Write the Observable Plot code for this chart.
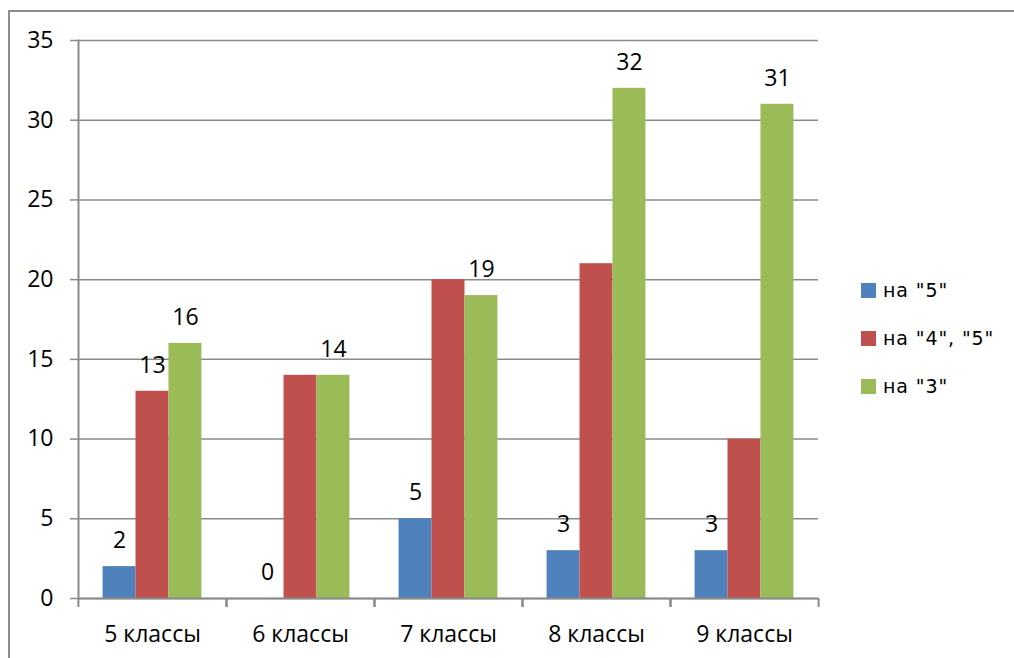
<!DOCTYPE html>
<html><head><meta charset="utf-8">
<script src="https://cdn.jsdelivr.net/npm/d3@7"></script>
<script src="https://cdn.jsdelivr.net/npm/@observablehq/plot@0.6"></script>
<style>
html,body{margin:0;background:#fff;width:1014px;height:658px;overflow:hidden}
body{position:relative;font-family:"Open Sans",sans-serif}
#border{position:absolute;left:8px;top:10px;width:1006px;height:648px;border-left:2px solid #8c8c8c;border-top:2px solid #8c8c8c;box-sizing:border-box}
#chart{position:absolute;left:0;top:0;width:1014px;height:658px;overflow:hidden}
#legend{position:absolute;left:861px;top:266px;font-family:"DejaVu Sans",sans-serif;font-size:19px;letter-spacing:0.9px;color:#000}
.item{display:flex;align-items:center;height:48px;line-height:48px}
.sw{width:15px;height:15px;margin-right:7px}
</style></head>
<body>
<div id="border"></div>
<div id="chart"></div>
<div id="legend"></div>
<script>
const categories = ["5 классы", "6 классы", "7 классы", "8 классы", "9 классы"];
const seriesNames = ['на "5"', 'на "4", "5"', 'на "3"'];
const values5 = [2, 0, 5, 3, 3];
const values45 = [13, 14, 20, 21, 10];
const values3 = [16, 14, 19, 32, 31];
const labels5 = [true, true, true, true, true];
const labels45 = [true, false, false, false, false];
const labels3 = [true, true, true, true, true];
const colors = ["#4F81BD", "#C0504D", "#9BBB59"];
const yTicks = [0, 5, 10, 15, 20, 25, 30, 35];

const seriesValues = [values5, values45, values3];
const seriesLabels = [labels5, labels45, labels3];
const rows = categories.flatMap((c, i) => seriesNames.map((s, j) => ({
  category: c, series: s, value: seriesValues[j][i], shown: seriesLabels[j][i]
})));

const W = 1014, H = 658, ML = 77, MR = 196, MT = 40, MB = 60;
const half = (W - ML - MR) / categories.length / 2;
const gray = "#8a8a8a";

const chart = Plot.plot({
  width: W, height: H, marginLeft: ML, marginRight: MR, marginTop: MT, marginBottom: MB,
  fx: {domain: categories, padding: 0, axis: null, label: null},
  x: {domain: seriesNames, paddingInner: 0, paddingOuter: 0.745, axis: null, round: false},
  y: {domain: [0, 35], axis: null},
  color: {domain: seriesNames, range: colors},
  style: {fontFamily: "Open Sans", fontSize: "23px", color: "#000", background: "transparent"},
  marks: [
    Plot.gridY(yTicks, {stroke: gray, strokeOpacity: 1, strokeWidth: 1.5}),
    Plot.barY(rows, {fx: "category", x: "series", y: "value", fill: "series"}),
    Plot.axisY(yTicks, {tickSize: 8, tickPadding: 17, stroke: gray, strokeWidth: 1.5, strokeOpacity: 1, fontSize: 23, label: null, tickFormat: d => d}),
    Plot.frame({anchor: "left", facetAnchor: "left", stroke: gray, strokeWidth: 2}),
    Plot.ruleY([0], {stroke: gray, strokeWidth: 2}),
    Plot.axisFx({anchor: "bottom", tickSize: 0, tickPadding: 27, label: null, fontSize: 23}),
    Plot.axisFx({anchor: "bottom", tickSize: 9, tickFormat: () => "", label: null, dx: -half, stroke: gray, strokeWidth: 2, strokeOpacity: 1}),
    Plot.axisFx(categories.slice(-1), {anchor: "bottom", tickSize: 9, tickFormat: () => "", label: null, dx: half, stroke: gray, strokeWidth: 2, strokeOpacity: 1}),
    Plot.text(rows.filter(d => d.shown), {fx: "category", x: "series", y: "value", text: d => String(d.value), dy: -26, fontSize: 23, fill: "#000"})
  ]
});
document.getElementById("chart").appendChild(chart);

const legend = d3.select("#legend");
seriesNames.forEach((s, i) => {
  const item = legend.append("div").attr("class", "item");
  item.append("div").attr("class", "sw").style("background", colors[i]);
  item.append("span").text(s);
});
</script>
</body></html>
